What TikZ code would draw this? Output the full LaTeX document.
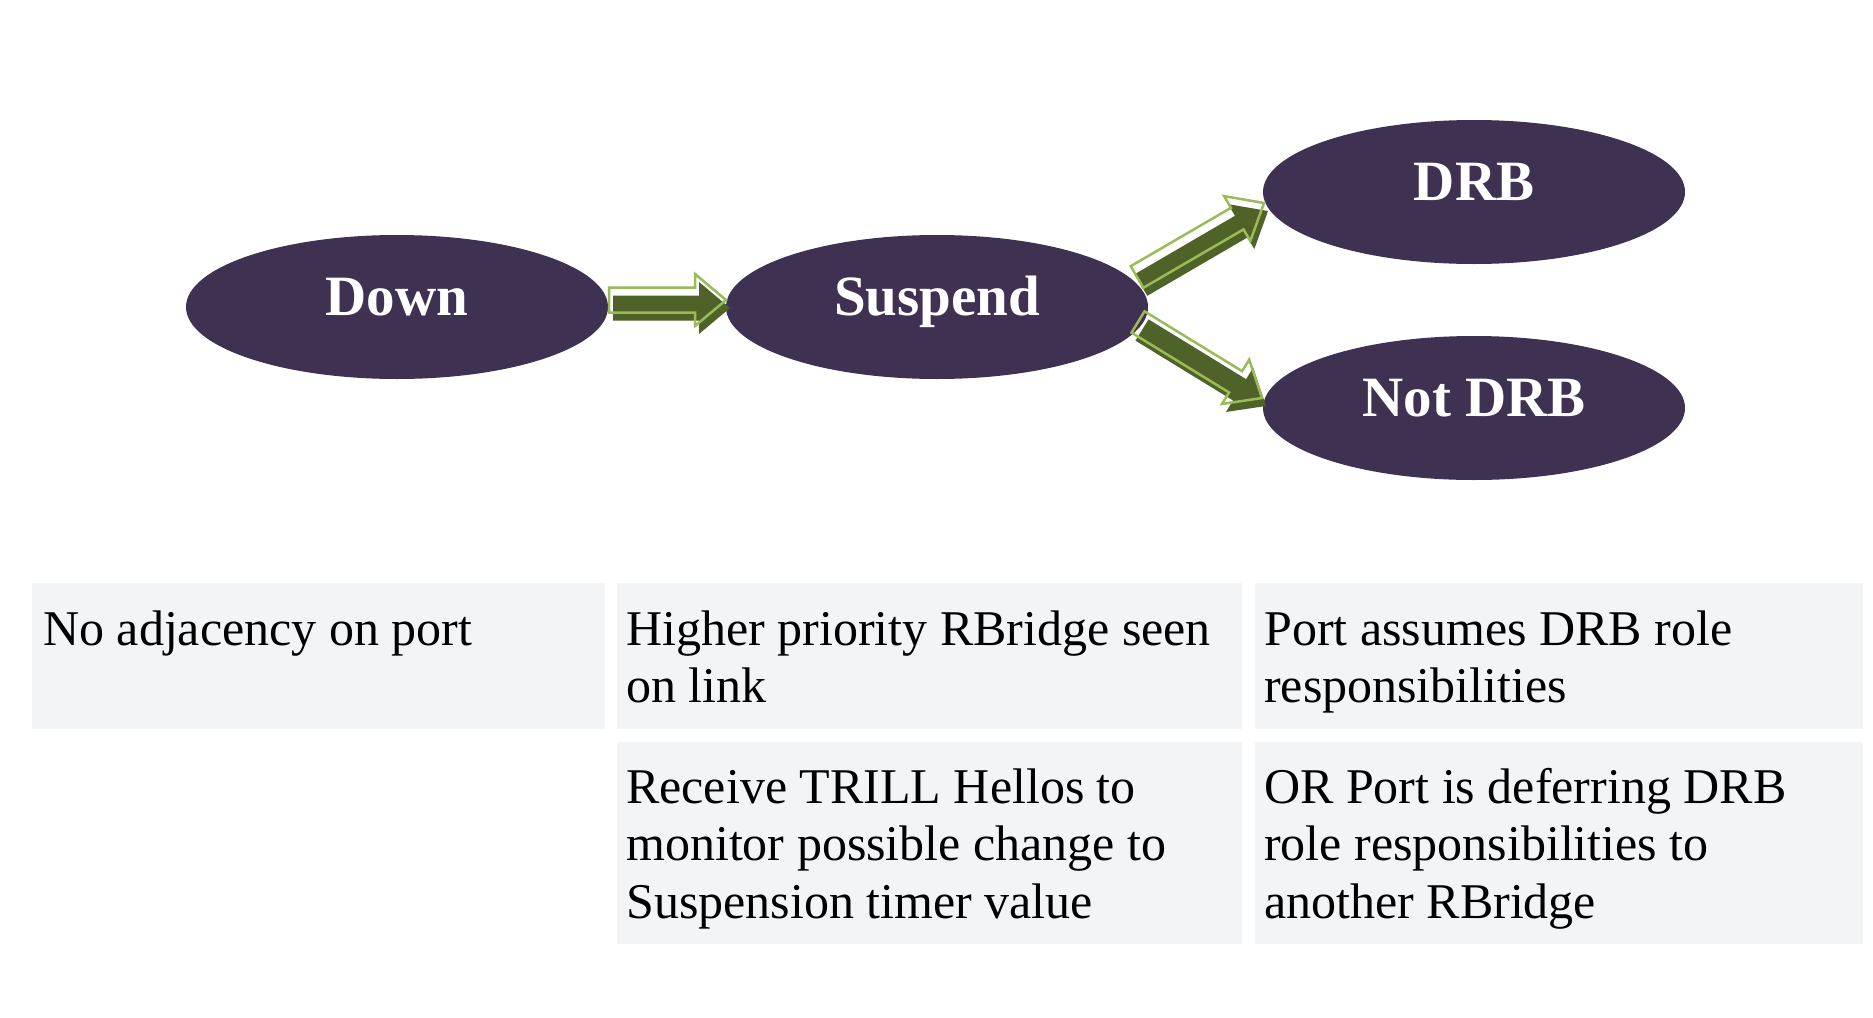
\documentclass[tikz,border=0pt]{standalone}
\usepackage{fontspec}
\setmainfont{Liberation Serif}
\usetikzlibrary{shapes.geometric,calc}
\definecolor{ellfill}{HTML}{3F3151}
\definecolor{boxfill}{HTML}{F3F4F6}
\definecolor{arrline}{HTML}{9BBB59}
\definecolor{arrdark}{HTML}{4F6228}
\newcommand{\arrowpoly}[2]{%
  ($(#1)!12.5pt!90:(#2)$) -- ($(hb)!12.5pt!90:(#2)$) -- ($(hb)!26pt!90:(#2)$) -- (#2) --
  ($(hb)!26pt!-90:(#2)$) -- ($(hb)!12.5pt!-90:(#2)$) -- ($(#1)!12.5pt!-90:(#2)$) -- cycle}
\newcommand{\fatarrow}[2]{%
  \coordinate (hb) at ($(#2)!31pt!(#1)$);
  \fill[arrdark, transform canvas={shift={(4pt,-8pt)}}] \arrowpoly{#1}{#2};
  \draw[arrline, line width=2.5pt, line join=miter] \arrowpoly{#1}{#2};
}
\begin{document}
\begin{tikzpicture}[x=1pt,y=-1pt,
  state/.style={ellipse, fill=ellfill, text=white, minimum width=422pt, minimum height=144pt,
    inner sep=0pt, text height=24pt, text depth=8pt, font=\fontsize{57}{60}\selectfont\bfseries},
  cell/.style={fill=boxfill, anchor=north west, inner sep=0pt},
  celltext/.style={anchor=base west, inner sep=0pt, align=left, font=\fontsize{50}{57.5}\selectfont}]
\useasboundingbox[fill=white] (0,0) rectangle (1873,1017);

\node[state] (down) at (397,307) {Down};
\node[state] (suspend) at (937,307) {Suspend};
\node[state] (drb) at (1474,192) {DRB};
\node[state] (notdrb) at (1474,408) {Not DRB};

\coordinate (a1s) at (609,300);
\coordinate (a1e) at (726,300);
\coordinate (a2s) at ($(suspend.center)+(200,-30)$);
\coordinate (a2e) at ($(drb.center)+(-210,11)$);
\coordinate (a3s) at ($(suspend.center)+(201,15)$);
\coordinate (a3e) at ($(notdrb.center)+(-212,-10)$);
\fatarrow{a1s}{a1e}
\fatarrow{a2s}{a2e}
\fatarrow{a3s}{a3e}

\node[cell, minimum width=573pt, minimum height=146pt] (b1) at (32,583) {};
\node[cell, minimum width=625pt, minimum height=146pt] (b2) at (617,583) {};
\node[cell, minimum width=608pt, minimum height=146pt] (b3) at (1255,583) {};
\node[cell, minimum width=625pt, minimum height=202pt] (b4) at (617,742) {};
\node[cell, minimum width=608pt, minimum height=202pt] (b5) at (1255,742) {};

\node[celltext] (t1) at (43,645) {No adjacency on port};
\node[celltext] (t2) at (626,702.5) {Higher priority RBridge seen\\on link};
\node[celltext] (t3) at (1264,702.5) {Port assumes DRB role\\responsibilities};
\node[celltext] (t4) at (626,918) {Receive TRILL Hellos to\\monitor possible change to\\Suspension timer value};
\node[celltext] (t5) at (1264,918) {OR Port is deferring DRB\\role responsibilities to\\another RBridge};
\end{tikzpicture}
\end{document}
